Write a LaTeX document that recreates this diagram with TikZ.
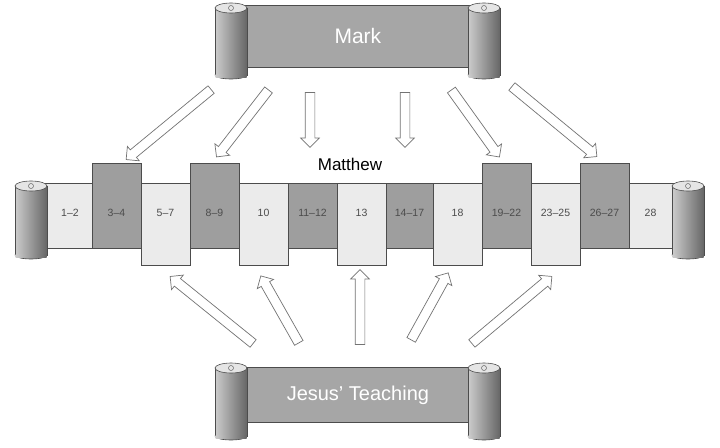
\documentclass[tikz,border=0pt]{standalone}
\usepackage{fontspec}
\setmainfont{Liberation Sans}
\usetikzlibrary{shapes.arrows,calc}
\begin{document}
\begin{tikzpicture}[x=1pt,y=-1pt,
  band/.style={draw=black!70,line width=0.8pt,fill=black!35},
  lseg/.style={draw=black!70,line width=0.8pt,fill=black!8},
  dseg/.style={draw=black!70,line width=0.8pt,fill=black!38},
  num/.style={font=\fontsize{10.5}{12}\selectfont,text=black!70},
  sarrow/.style={single arrow,draw=black!55,fill=white,line width=0.7pt,single arrow head extend=4.5pt,inner xsep=0pt,inner ysep=4.5pt,single arrow head indent=0pt}]
\useasboundingbox (0,0) rectangle (720,447);
\newcommand{\roller}[4]{% x left, y top, y bottom, width
  \shade[left color=black!25,right color=black!60,draw=black!70,line width=0.6pt]
    (#1+#4/2,#3) ellipse ({#4/2} and 4);
  \shade[left color=black!20,right color=black!60,draw=black!70,line width=0.6pt] (#1,#2) rectangle (#1+#4,#3);
  \shade[left color=black!20,right color=black!60] (#1+0.5,#3-1) rectangle (#1+#4-0.5,#3+2);
  \filldraw[fill=black!10,draw=black!70,line width=0.6pt] (#1+#4/2,#2) ellipse ({#4/2} and 5);
  \draw[black!60,line width=0.5pt] (#1+#4/2,#2) circle (2.5);
}
% Mark scroll
\node[band,minimum width=225pt,minimum height=62pt,inner sep=0pt,anchor=north west] (mark) at (245,5) {};
\node[text=white,font=\fontsize{21}{24}\selectfont] at (mark.center) {Mark};
\roller{215}{8}{75}{32}
\roller{468}{8}{75}{32}
% Teaching scroll
\node[band,minimum width=225pt,minimum height=55pt,inner sep=0pt,anchor=north west] (jt) at (245,367) {};
\node[text=white,font=\fontsize{20}{24}\selectfont] at (jt.center) {Jesus’ Teaching};
\roller{215}{368}{436}{32}
\roller{468}{368}{436}{32}
% Matthew strip
\node[lseg,minimum width=632pt,minimum height=65pt,inner sep=0pt,anchor=north west] (strip) at (45,183) {};
\foreach \x/\w in {92/49,190/49,482/49,580/49}
  \node[dseg,minimum width=\w pt,minimum height=85pt,inner sep=0pt,anchor=north west] (s\x) at (\x,163) {};
\foreach \x/\w in {288/49,386/47}
  \node[dseg,minimum width=\w pt,minimum height=65pt,inner sep=0pt,anchor=north west] (s\x) at (\x,183) {};
\foreach \x/\w in {141/49,239/49,337/49,433/49,531/49}
  \node[lseg,minimum width=\w pt,minimum height=82pt,inner sep=0pt,anchor=north west] (s\x) at (\x,183) {};
\foreach \x/\w/\lab in {48/44/1--2,92/49/3--4,141/49/5--7,190/49/8--9,239/49/10,288/49/11--12,337/49/13,386/47/14--17,433/49/18,482/49/19--22,531/49/23--25,580/49/26--27,629/43/28}
  \node[num] (n\x) at (\x+\w/2,213) {\lab};
\roller{15}{186}{255}{32}
\roller{672}{186}{255}{32}
\node[font=\fontsize{17}{20}\selectfont] (mt) at (350,164) {Matthew};
% arrows
\foreach \ax/\ay/\bx/\by [count=\i] in {213/88/128/158, 270/88/218/155, 310/90/310/145, 405/90/405/145, 450/88/498/155, 510/85/595/155,
  255/345/172/278, 300/345/262/278, 360/347/360/272, 410/342/447/275, 470/345/550/278} {
  \coordinate (a\i) at (\ax,\ay);
  \coordinate (b\i) at (\bx,\by);
  \path let \p1=($(b\i)-(a\i)$), \n1={veclen(\x1,\y1)}, \n2={atan2(\y1,\x1)} in
    node[sarrow,minimum height=\n1,rotate=\n2] at ($(a\i)!0.5!(b\i)$) {};
}
\end{tikzpicture}
\end{document}
